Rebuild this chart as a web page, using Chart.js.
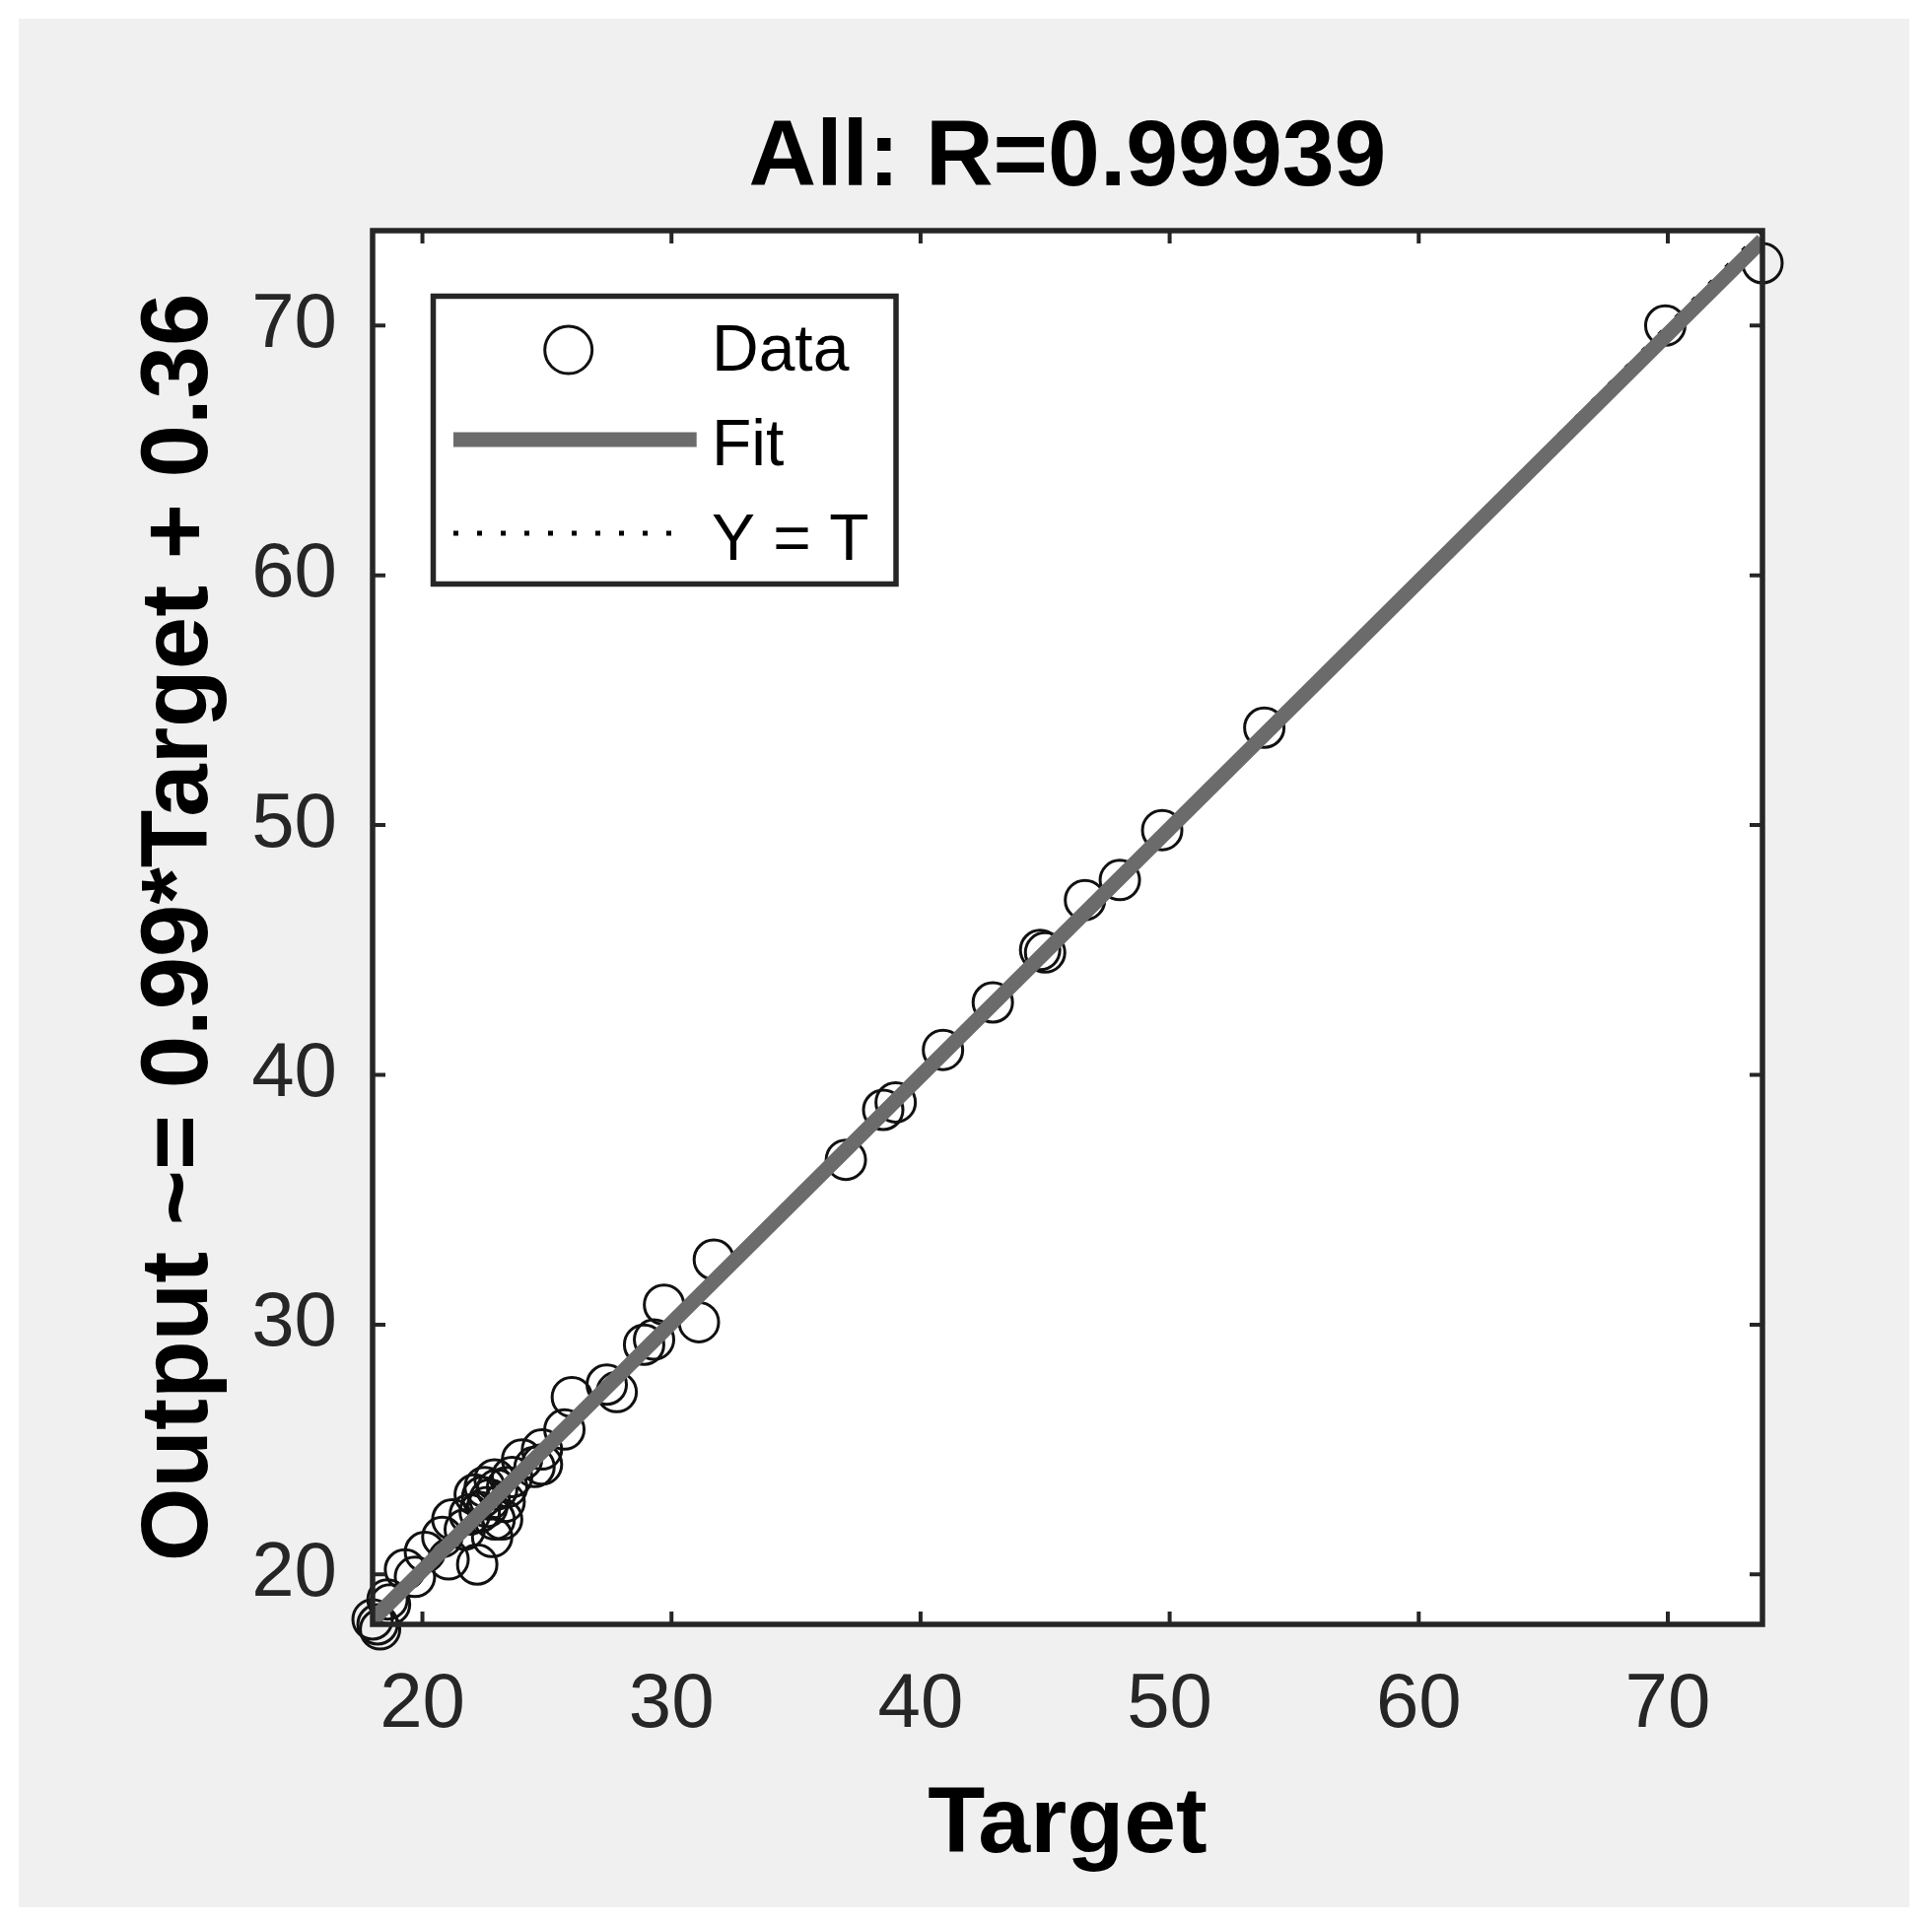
<!DOCTYPE html>
<html><head><meta charset="utf-8">
<script src="https://cdn.jsdelivr.net/npm/chart.js@4.4.1/dist/chart.umd.min.js"></script>
<style>html,body{margin:0;padding:0;background:#fff;}canvas{display:block;}</style>
</head><body>
<canvas id="c" width="1960" height="1952" style="width:1960px;height:1952px"></canvas>
<script>
// ---- data ----
const titleText = 'All: R=0.99939';
const xAxisLabel = 'Target';
const yAxisLabel = 'Output ~= 0.99*Target + 0.36';
const seriesLabels = ['Data', 'Fit', 'Y = T'];
const targets = [73.8, 69.9, 53.8, 49.7, 48.0, 46.6, 44.8, 45.0, 42.9, 40.9, 38.5, 39.0, 37.0, 31.7, 29.7, 31.1, 28.9, 29.3, 27.4, 27.8, 26.0, 25.7, 24.8, 24.5, 24.0, 24.8, 23.4, 22.9, 22.1, 22.4, 22.6, 22.9, 23.2, 22.8, 22.2, 21.2, 21.7, 20.8, 21.05, 20.1, 19.3, 19.7, 18.6, 18.7, 18.0, 18.3, 18.2, 23.6, 23.0, 22.5, 22.7, 23.3, 22.3, 21.9];
const outputs = [72.5, 70.0, 53.9, 49.8, 47.8, 47.0, 45.0, 44.9, 42.9, 41.0, 38.6, 38.9, 36.6, 32.6, 30.8, 30.1, 29.2, 29.4, 27.6, 27.3, 27.1, 25.8, 25.0, 24.3, 24.6, 24.4, 23.5, 23.8, 23.2, 23.1, 22.7, 22.2, 22.2, 21.5, 20.4, 22.2, 21.8, 21.5, 20.6, 20.9, 20.2, 19.9, 19.0, 18.8, 18.2, 17.8, 18.0, 23.9, 23.4, 23.5, 23.0, 22.9, 22.5, 22.4];
const fitTargets = [18.0, 73.8];
const fitOutputs = [18.18, 73.42];
const identityTargets = [18.0, 73.8];
const identityOutputs = [18.0, 73.8];
const axisMin = 18.0;
const axisMax = 73.8;
const xTicks = [20, 30, 40, 50, 60, 70];
const yTicks = [20, 30, 40, 50, 60, 70];
const xTickLabels = ['20', '30', '40', '50', '60', '70'];
const yTickLabels = ['20', '30', '40', '50', '60', '70'];

const FONT = "'Liberation Sans', Arial, Helvetica, sans-serif";
const AXIS_COLOR = '#262626';

const toPts = (xs, ys) => xs.map((x, i) => ({x: x, y: ys[i]}));

const figurePlugin = {
  id: 'figureBg',
  beforeDraw(chart) {
    const ctx = chart.ctx, ca = chart.chartArea;
    ctx.save();
    ctx.fillStyle = '#ffffff';
    ctx.fillRect(0, 0, chart.width, chart.height);
    ctx.fillStyle = '#f0f0f0';
    ctx.fillRect(19, 19, 1918, 1916);
    ctx.fillStyle = '#ffffff';
    ctx.fillRect(ca.left, ca.top, ca.right - ca.left, ca.bottom - ca.top);
    ctx.restore();
  },
  afterDatasetsDraw(chart) {
    const ctx = chart.ctx, ca = chart.chartArea;
    const xs = chart.scales.x, ys = chart.scales.y;
    ctx.save();
    // inward ticks on all four sides
    ctx.strokeStyle = AXIS_COLOR;
    ctx.lineWidth = 4;
    const tl = 13;
    xs.ticks.forEach(t => {
      const p = xs.getPixelForValue(t.value);
      ctx.beginPath();
      ctx.moveTo(p, ca.bottom); ctx.lineTo(p, ca.bottom - tl);
      ctx.moveTo(p, ca.top); ctx.lineTo(p, ca.top + tl);
      ctx.stroke();
    });
    ys.ticks.forEach(t => {
      const p = ys.getPixelForValue(t.value);
      ctx.beginPath();
      ctx.moveTo(ca.left, p); ctx.lineTo(ca.left + tl, p);
      ctx.moveTo(ca.right, p); ctx.lineTo(ca.right - tl, p);
      ctx.stroke();
    });
    // box
    ctx.lineWidth = 5.5;
    ctx.strokeRect(ca.left, ca.top, ca.right - ca.left, ca.bottom - ca.top);

    // legend box
    const bx = ca.left + 61.5, by = ca.top + 66.5, bw = 469.5, bh = 292;
    ctx.fillStyle = '#ffffff';
    ctx.fillRect(bx, by, bw, bh);
    ctx.lineWidth = 5.5;
    ctx.strokeStyle = AXIS_COLOR;
    ctx.strokeRect(bx, by, bw, bh);
    const rowsText = [124, 220, 316];
    const rowsSym = [121, 212, 307];
    chart.data.datasets.forEach((ds, i) => {
      const ty = ca.top + rowsText[i], sy = ca.top + rowsSym[i];
      if (!ds.showLine) {
        ctx.beginPath();
        ctx.arc(ca.left + 198.7, sy, 24, 0, Math.PI * 2);
        ctx.lineWidth = ds.pointBorderWidth;
        ctx.strokeStyle = ds.pointBorderColor;
        ctx.stroke();
      } else {
        ctx.beginPath();
        ctx.setLineDash(ds.borderDash || []);
        ctx.lineWidth = ds.borderDash ? 5 : ds.borderWidth;
        ctx.strokeStyle = ds.borderColor;
        ctx.lineCap = 'butt';
        ctx.moveTo(ca.left + 82, sy);
        ctx.lineTo(ca.left + (ds.borderDash ? 307 : 328.7), sy);
        ctx.stroke();
        ctx.setLineDash([]);
      }
      ctx.fillStyle = '#000000';
      ctx.font = '66px ' + FONT;
      ctx.textBaseline = 'middle';
      ctx.textAlign = 'left';
      ctx.fillText(ds.label, ca.left + 344, ty);
    });
    ctx.restore();
  }
};

new Chart(document.getElementById('c'), {
  type: 'scatter',
  data: {
    datasets: [
      {
        label: seriesLabels[0],
        data: toPts(targets, outputs),
        showLine: false,
        pointStyle: 'circle',
        pointRadius: 20,
        pointBorderWidth: 3,
        pointBorderColor: '#111111',
        pointBackgroundColor: 'rgba(0,0,0,0)',
        clip: false,
        order: 3
      },
      {
        label: seriesLabels[1],
        data: toPts(fitTargets, fitOutputs),
        showLine: true,
        borderColor: '#6b6b6b',
        borderWidth: 15,
        pointRadius: 0,
        fill: false,
        order: 1
      },
      {
        label: seriesLabels[2],
        data: toPts(identityTargets, identityOutputs),
        showLine: true,
        borderColor: '#000000',
        borderWidth: 4,
        borderDash: [5, 19],
        pointRadius: 0,
        fill: false,
        order: 2
      }
    ]
  },
  options: {
    responsive: false,
    devicePixelRatio: 1,
    animation: false,
    events: [],
    layout: { padding: { left: 0, top: 0, right: 172, bottom: 0 } },
    plugins: {
      legend: { display: false },
      tooltip: { enabled: false },
      title: {
        display: true,
        text: titleText,
        fullSize: false,
        color: '#000000',
        font: { family: FONT, size: 95, weight: 'bold', lineHeight: 1.2 },
        padding: { top: 104.5, bottom: 15.5 }
      }
    },
    scales: {
      x: {
        type: 'linear',
        position: 'bottom',
        min: axisMin,
        max: axisMax,
        afterBuildTicks: s => { s.ticks = xTicks.map(v => ({value: v})); },
        afterFit: s => { s.height = 304; },
        grid: { display: false, drawTicks: false },
        border: { display: false },
        ticks: {
          color: AXIS_COLOR,
          font: { family: FONT, size: 78 },
          padding: 36,
          maxRotation: 0,
          autoSkip: false,
          callback: (v, i) => xTickLabels[i]
        },
        title: {
          display: true,
          text: xAxisLabel,
          color: '#000000',
          font: { family: FONT, size: 95, weight: 'bold', lineHeight: 1.2 },
          padding: { top: 0, bottom: 42 }
        }
      },
      y: {
        type: 'linear',
        position: 'left',
        min: axisMin,
        max: axisMax,
        afterBuildTicks: s => { s.ticks = yTicks.map(v => ({value: v})); },
        afterFit: s => { s.width = 378; },
        grid: { display: false, drawTicks: false },
        border: { display: false },
        ticks: {
          color: AXIS_COLOR,
          font: { family: FONT, size: 78 },
          padding: 36,
          autoSkip: false,
          callback: (v, i) => yTickLabels[i]
        },
        title: {
          display: true,
          text: yAxisLabel,
          color: '#000000',
          font: { family: FONT, size: 96, weight: 'bold', lineHeight: 1.2 },
          padding: { top: 126, bottom: 0 }
        }
      }
    }
  },
  plugins: [figurePlugin]
});
</script>
</body></html>
